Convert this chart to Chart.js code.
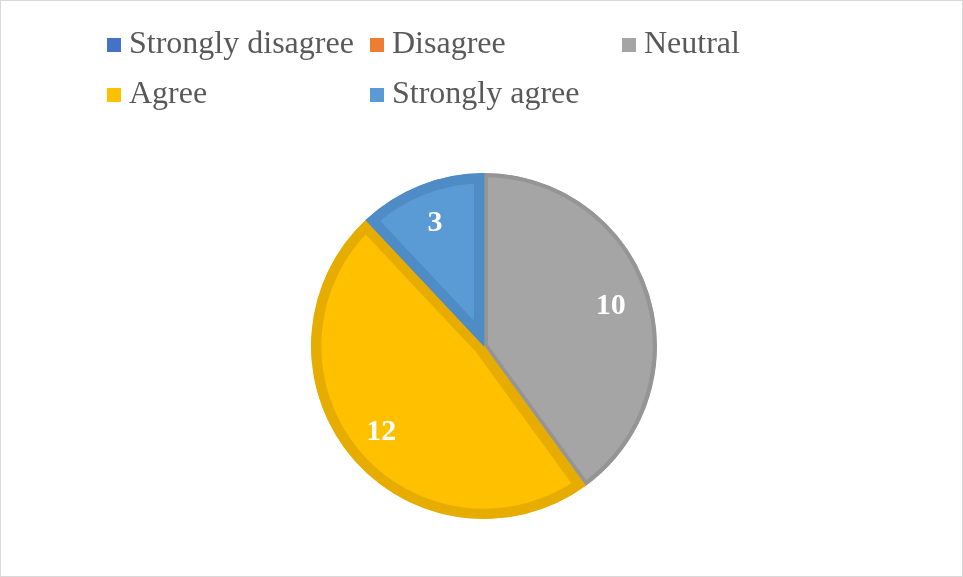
<!DOCTYPE html>
<html>
<head>
<meta charset="utf-8">
<script src="https://cdn.jsdelivr.net/npm/chart.js@4.4.1/dist/chart.umd.min.js"></script>
<style>
    html, body { margin: 0; padding: 0; background: #fff; }
    #Frame {
        position: relative;
        width: 963px;
        height: 577px;
        box-sizing: border-box;
        border: 1px solid #d9d9d9;
        overflow: hidden;
    }
    #ChartRespuestas { position: absolute; left: 0; top: 0; }
    #Leyenda {
        position: absolute;
        left: 106px;
        top: 23px;
        font-family: "Liberation Serif", "Times New Roman", serif;
        font-size: 32px;
        color: #595959;
    }
    .Item {
        position: absolute;
        white-space: nowrap;
        line-height: 36px;
    }
    .Item span.Box {
        display: inline-block;
        width: 14px;
        height: 14px;
        margin-right: 8px;
        vertical-align: 1px;
    }
</style>
</head>
<body>
<div id="Frame">
    <canvas id="ChartRespuestas" width="963" height="577"></canvas>
    <div id="Leyenda"></div>
</div>
<script>
const Categorias = ['Strongly disagree', 'Disagree', 'Neutral', 'Agree', 'Strongly agree'];
const Valores = [0, 0, 10, 12, 3];
const Colores = ['#4472C4', '#ED7D31', '#A5A5A5', '#FFC000', '#5B9BD5'];
const Bordes = ['#4472C4', '#ED7D31', '#959595', '#E6AD00', '#4F8BC4'];
const AnchoBorde = [0, 0, 4, 10, 10];

// posiciones de la leyenda (columna, fila)
const PosLeyenda = [[0, 0], [263, 0], [515, 0], [0, 50], [263, 50]];

const InitLeyenda = () => {
    const cont = document.getElementById('Leyenda');
    Categorias.forEach((c, i) => {
        const div = document.createElement('div');
        div.className = 'Item';
        div.style.left = PosLeyenda[i][0] + 'px';
        div.style.top = PosLeyenda[i][1] + 'px';
        div.innerHTML = '<span class="Box" style="background:' + Colores[i] + '"></span>' + c;
        cont.appendChild(div);
    });
};

const EtiquetasPlugin = {
    id: 'etiquetas',
    afterDatasetsDraw(chart) {
        const ctx = chart.ctx;
        const meta = chart.getDatasetMeta(0);
        ctx.save();
        ctx.fillStyle = '#ffffff';
        ctx.font = 'bold 30px "Liberation Serif", "Times New Roman", serif';
        ctx.textAlign = 'center';
        ctx.textBaseline = 'middle';
        meta.data.forEach((arc, i) => {
            if (!Valores[i]) return;
            const p = arc.getProps(['x', 'y', 'startAngle', 'endAngle', 'outerRadius'], true);
            const a = (p.startAngle + p.endAngle) / 2;
            const r = p.outerRadius * 0.77;
            ctx.fillText(String(Valores[i]), p.x + Math.cos(a) * r, p.y + Math.sin(a) * r + 1);
        });
        ctx.restore();
    }
};

var ctxRespuestas = null;
var ChartRespuestas = null;

const InitGrafRespuestas = () => {
    ctxRespuestas = document.getElementById('ChartRespuestas');
    ChartRespuestas = new Chart(ctxRespuestas, {
        type: 'pie',
        data: {
            labels: Categorias,
            datasets: [{
                data: Valores,
                backgroundColor: Colores,
                borderColor: Bordes,
                borderWidth: AnchoBorde,
                borderAlign: 'inner',
                hoverOffset: 0,
                offset: 0
            }]
        },
        options: {
            responsive: false,
            animation: false,
            events: [],
            layout: {
                padding: { top: 172, bottom: 59, left: 310, right: 307 }
            },
            plugins: {
                legend: { display: false },
                tooltip: { enabled: false }
            }
        },
        plugins: [EtiquetasPlugin]
    });
};

InitLeyenda();
InitGrafRespuestas();
</script>
</body>
</html>
